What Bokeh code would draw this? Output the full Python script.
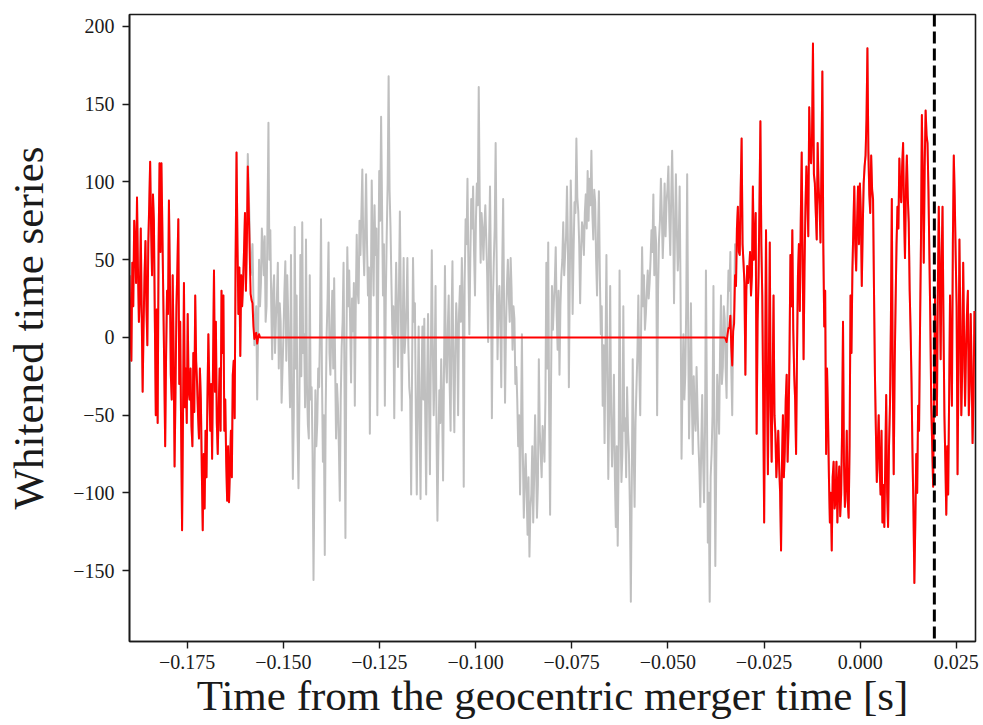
from bokeh.plotting import figure
from bokeh.models import Span, FixedTicker, Range1d
from bokeh.embed import file_html
from bokeh.resources import INLINE

# ---- data ----
T_START = -0.19          # time of first sample [s]
SAMPLE_RATE = 4096       # samples per second
MERGER_TIME = 0.0193     # dashed marker [s]

whitened_a = [40, 5, -15, 48, 20, 75, 60, 35, 90, 45, 10, 25, 70, 15, -35, 8, 40, 62, 20, -5,
              60, 85, 113, 70, 40, 92, 75, 10, -50, 18, -55, 60, 112, 55, 112, 70, 25, -20, -70, -10,
              30, 15, 88, 40, -24, -40, 40, -10, -83, -35, 20, 45, 76, -30, 10, -60, -124, -50, 35, -45,
              -20, -55, 15, -35, -40, -20, -57, -70, -10, -48, 27, -15, -30, -50, -65, -20, -40, -85, -124, -75,
              -110, -60, -90, -40, 2, -30, -60, -30, -78, -15, 43, -35, 10, -55, -75, -45, -20, -60, 30, -10,
              27, -60, -40, -80, -105, -70, -106, -85, -60, -90, -24, -15, -52, 50, 119, 60, 15, 45, -12, 40,
              20, 35, 56, 80, 30, 60, 118, 95, 70, 40, 45, 60, 25, -5, 10, 20, -40, 5, 50, 20,
              35, 70, 58, 40, 65, 10, 20, 75]
whitened_b = [138, 50, 69, 20, -14, 30, 40, -10, 12, 25, 48, -20, 22, 10, -42, -20, 2, 30, 49, -15,
              40, 15, -19, -45, 53, -30, -91, -50, 71, -20, 27, -60, -97, -40, 53, -25, 74, -10, 2, -45,
              63, -30, -56, -65, 40, -40, -32, -75, -156, -90, -34, -70, -55, -20, -32, 10, 76, -25, -80, -50,
              -140, -45, 2, 25, 61, -10, -24, 5, 30, -20, 38, -15, -65, -30, -44, -70, -105, -40, -6, 10,
              48, -30, -129, -10, 58, 20, 43, 10, -29, 25, 4, 35, -44, 20, 66, 30, 22, 75, 53, 80,
              108, 60, 40, 70, 105, 60, 27, 45, -62, 20, 101, 60, 27, 85, 53, 70, -50, 40, 107, 75,
              142, 85, 27, 60, -44, 25, 66, 100, 168, 95, 71, 35, 2, 20, -52, 10, 48, 15, -19, 30,
              81, 25, -47, 5, 51, -10, 2, 20, 51, -5, -32, -40, -101, -20, 51, 10, 22, -50, -101, -40,
              7, -55, -104, -30, 7, -40]
whitened_c = [12, -50, -101, -30, 15, -40, -88, -10, 56, -5, -50, -20, 33, -60, -118, -70, -34, -55, -14, -45,
              -92, -20, 46, -15, -29, 5, 27, -30, -60, 10, 49, -25, -61, -10, 22, 5, -50, 15, 33, 10,
              51, 20, -96, 35, 76, 60, 102, 45, 2, 50, 89, 70, 97, 55, 27, 75, 99, 85, 161, 90,
              48, 80, 69, 50, 71, 85, 63, 40, -3, 60, 97, 40, -52, 20, 48, 70, 125, 55, -14, 20,
              33, 10, -32, 45, 89, 20, -42, 5, 33, 50, 27, 10, 51, 30, -8, 20, 12, -30, -19, -40,
              -70, -50, -101, -60, 2, -75, -116, -90, -75, -100, -127, -90, -141, -110, -101, -70, -119, -90, -50, -80,
              -116, -95, -14, -60, -75, -90, -57, -65, -80, -40, 48, -20, 61, -50, -114, -30, 33, 5, 22, 35,
              58, 15, -8, 30, -24, 20, 40, 50, 74, 40, 53, 65, 97, 60, -32, 40, 101, 70, 15, 55,
              87, 80, 128, 90, 81, 60, 22, 55, 74, 70]
whitened_d = [53, 80, 92, 70, 107, 75, 102, 85, 120, 80, 63, 95, 87, 50, 27, 65, 94, 40, 2, 20,
              -44, -5, -68, -10, 53, -25, -91, -40, 33, -50, -83, -60, -24, -90, -122, -70, -134, -80, 43, -55,
              -93, -75, 20, -60, -52, -90, -32, -60, -75, -110, -170, -95, -14, -70, -109, -55, -32, -10, 27, -20,
              -50, 10, 58, 20, 40, 5, 15, 30, 43, 25, 35, 50, 69, 55, 92, 40, 71, 60, -50, 30,
              63, 75, 102, 80, 51, 70, 99, 65, 87, 95, 110, 75, 53, 90, 120, 85, 22, 65, 105, 70,
              43, 60, 97, 25, -78, -30, 2, -40, -24, 20, 105, 10, -65, -30, 22, -40, -75, -25, -50, -60,
              -19, -45, -68, -85, -109, -70, -37, -80, -106, -60, 43, -40, -132, -100, -170, -90, -75, -50, 33, -60,
              -147, -80, -24, -40, -62, -10, 27, -30, -19, 20, 12, -20, -39, 15, 43, 30]
whitened_e = [55, -20, -50, 10, 17, 60, 33, 70, 84, 55, 53, 95, 128, 60, 48, 35, -24, 30, 46, 35,
              43, 55, 27, 40, 97, 50, 61, 80, -62, 10, 38, 85, 139, 60, 27, -40, -119, -20, 69, -30,
              -88, -20, 61, -45, -80, -30, 27, -50, -62, -90, -75, -60, -83, -100, -137, -80, -50, -90, -73, -40,
              -24, -80, -57, -10, 53, 20, 69, 5, -24, -40, -75, -10, 40, 60, 17, 75, 119, 50, -14, 45,
              84, 110, 92, 65, 148, 120, 112, 130, 189, 105, 99, 80, 63, 125, 97, 85, 61, 110, 171, 60,
              7, 30, -75, -20, -50, -90, -119, -100, -137, -90, -80, -110, -106, -80, -119, -95, -83, -115, -101, -60,
              10, -80, -109, -95, -60, -105, -116, -70, 27, -10, 43, 70, 97, 60]
whitened_f = [43, 75, 97, 60, 99, 80, 33, 70, 99, 110, 117, 140, 186, 120, 92, 80, 117, 95, 89, 30,
              -24, -60, -93, -70, -50, -85, -101, -60, -119, -95, -122, -80, -37, -100, -122, -70, -44, 10, 89, -30,
              -88, -20, 22, 60, 84, 70, 115, 95, 87, 110, 125, 80, 51, 95, 117, 90, 74, 30, 4, -30,
              -75, -110, -158, -120, -75, -100, -44, -60, 4, 60, 143, 100, 48, 110, 146, 130, 125, 95, 53, 10,
              -44, -70, -96, -30, 27, -20, -50, 30, 84, 40, -14, 50, 84, 10, -50, -80, -114, -70, -101, -40,
              27, -10, -44, 60, 117, 90, 53, 20, -88, -20, 63, 10, -50, -20, 48, 0, -44, -10, 15, 30,
              -50, -30, 15, -20, -68, -40, 17]

# gated (red) series: the same data, with the gate zeroed and short tapers
GATE_IN = 126                # first tapered sample
gate_taper_in = [110, 84, 55, 28, 24, 22, 7, -1, 2, 3, -4, 0, 2, 0, 0, 0]
GATE_ZERO_COUNT = 492
gate_taper_out = [0, -1, -3, 2, 6, 6, 14, -6, -18, 4, 9, 40]

x_ticks = [-0.175, -0.15, -0.125, -0.1, -0.075, -0.05, -0.025, 0.0, 0.025]
x_tick_labels = ["\u22120.175", "\u22120.150", "\u22120.125", "\u22120.100",
                 "\u22120.075", "\u22120.050", "\u22120.025", "0.000", "0.025"]
y_ticks = [-150, -100, -50, 0, 50, 100, 150, 200]
y_tick_labels = ["\u2212150", "\u2212100", "\u221250", "0", "50", "100", "150", "200"]

# ---- assemble ----
whitened = whitened_a + whitened_b + whitened_c + whitened_d + whitened_e + whitened_f
gate_out_start = GATE_IN + len(gate_taper_in) + GATE_ZERO_COUNT + len(gate_taper_out)
gated = (whitened[:GATE_IN] + gate_taper_in + [0] * GATE_ZERO_COUNT
         + gate_taper_out + whitened[gate_out_start:])
times = [T_START + i / SAMPLE_RATE for i in range(len(whitened))]

FONT = "Liberation Serif"

p = figure(width=983, height=725,
           x_range=Range1d(-0.19, 0.03), y_range=Range1d(-195.6, 207.7),
           output_backend="svg", toolbar_location=None,
           min_border_left=129, min_border_right=8,
           min_border_top=14, min_border_bottom=84)

p.line(times, whitened, line_color="#bfbfbf", line_width=2, line_join="round")
p.line(times, gated, line_color="#ff0000", line_width=2, line_join="round")
p.add_layout(Span(location=MERGER_TIME, dimension="height",
                  line_color="black", line_width=3, line_dash="12 5"))

p.xgrid.visible = False
p.ygrid.visible = False
p.background_fill_color = "white"
p.border_fill_color = "white"
p.outline_line_color = "#1a1a1a"
p.outline_line_width = 1.6
p.outline_line_alpha = 1.0

p.xaxis.ticker = FixedTicker(ticks=x_ticks)
p.xaxis.major_label_overrides = dict(zip(x_ticks, x_tick_labels))
p.yaxis.ticker = FixedTicker(ticks=y_ticks)
p.yaxis.major_label_overrides = dict(zip(y_ticks, y_tick_labels))

p.xaxis.axis_label = "Time from the geocentric merger time [s]"
p.yaxis.axis_label = "Whitened time series"

for ax in (p.xaxis[0], p.yaxis[0]):
    ax.axis_line_color = "#1a1a1a"
    ax.axis_line_width = 1.6
    ax.major_tick_line_color = "#1a1a1a"
    ax.major_tick_line_width = 1.4
    ax.major_tick_out = 7
    ax.major_tick_in = 0
    ax.minor_tick_line_color = None
    ax.major_label_text_font = FONT
    ax.major_label_text_font_size = "20px"
    ax.major_label_text_color = "#1a1a1a"
    ax.axis_label_text_font = FONT
    ax.axis_label_text_font_size = "43px"
    ax.axis_label_text_font_style = "normal"
    ax.axis_label_text_color = "#1a1a1a"

p.xaxis.major_label_standoff = 6
p.xaxis.axis_label_standoff = 0
p.yaxis.major_label_standoff = 8
p.yaxis.axis_label_standoff = 18

open("out.html", "w").write(file_html(p, INLINE))
